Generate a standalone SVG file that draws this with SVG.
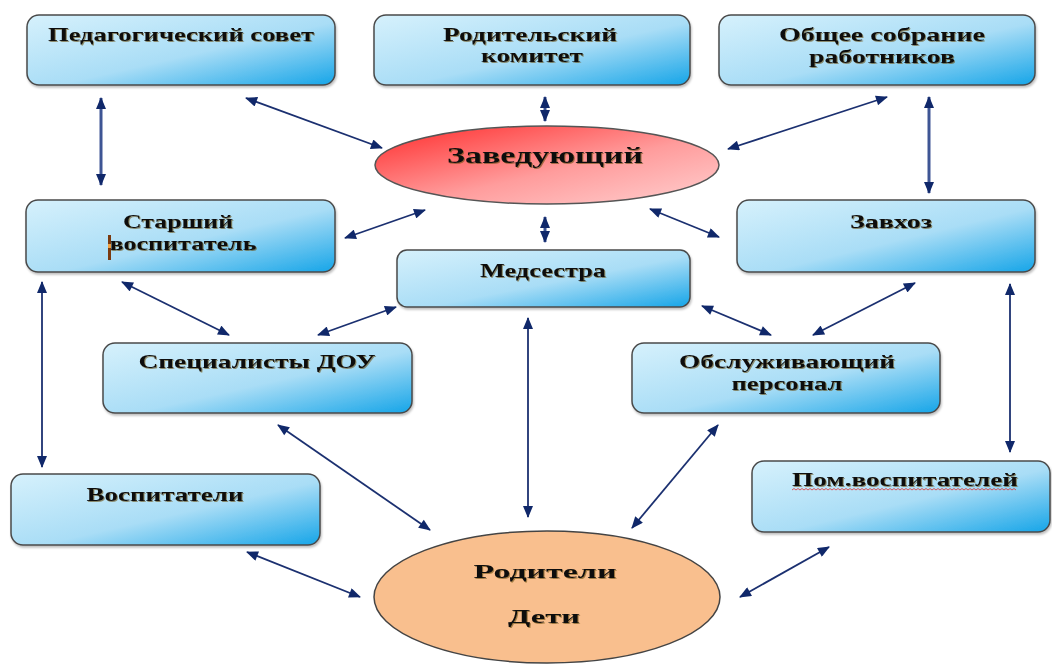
<svg xmlns="http://www.w3.org/2000/svg" width="1052" height="664" viewBox="0 0 1052 664">
<defs>
<linearGradient id="gBox" x1="0" y1="0" x2="1" y2="1">
<stop offset="0" stop-color="#d6f1fc"/>
<stop offset="0.55" stop-color="#a9ddf6"/>
<stop offset="1" stop-color="#16a5e8"/>
</linearGradient>
<linearGradient id="gRed" x1="0" y1="0" x2="1" y2="1">
<stop offset="0" stop-color="#ff2a2a"/>
<stop offset="0.55" stop-color="#ff9c9c"/>
<stop offset="1" stop-color="#ffd0d0"/>
</linearGradient>
<filter id="ts" x="-5%" y="-20%" width="110%" height="150%">
<feDropShadow dx="1" dy="1" stdDeviation="0.4" flood-color="#6b5010" flood-opacity="0.6"/>
</filter>
<filter id="bs" x="-5%" y="-10%" width="110%" height="125%">
<feDropShadow dx="1" dy="2" stdDeviation="1.2" flood-color="#000" flood-opacity="0.25"/>
</filter>
<marker id="ah" viewBox="0 0 12 10" refX="11" refY="5" markerWidth="13" markerHeight="10" markerUnits="userSpaceOnUse" orient="auto-start-reverse">
<path d="M0,0 L12,5 L0,10 z" fill="#10286a"/>
</marker>
</defs>
<style>
.box{fill:url(#gBox);stroke:#4a4a4a;stroke-width:1.5;filter:url(#bs)}
.t{font-family:"Liberation Serif","Times New Roman",serif;font-weight:bold;font-size:19px;fill:#111;text-anchor:middle;filter:url(#ts)}
.big{font-size:24px}
.c{stroke:#1b3070;stroke-width:1.8;fill:none;marker-start:url(#ah);marker-end:url(#ah)}
.v{stroke:#3e5594;stroke-width:3}
</style>
<rect width="1052" height="664" fill="#ffffff"/>

<g id="connectors">
<line class="c v" x1="101" y1="98" x2="101" y2="185"/>
<line class="c" x1="246" y1="98" x2="382" y2="148"/>
<line class="c v" x1="545" y1="97" x2="545" y2="121"/>
<line class="c" x1="887" y1="97" x2="728" y2="149"/>
<line class="c v" x1="929" y1="97" x2="929" y2="193"/>
<line class="c" x1="425" y1="210" x2="345" y2="238"/>
<line class="c v" x1="545" y1="217" x2="545" y2="242"/>
<line class="c" x1="650" y1="209" x2="719" y2="237"/>
<line class="c" x1="122" y1="282" x2="229" y2="335"/>
<line class="c" x1="318" y1="335" x2="396" y2="307"/>
<line class="c" x1="702" y1="306" x2="771" y2="335"/>
<line class="c" x1="915" y1="283" x2="813" y2="335"/>
<line class="c" x1="42" y1="282" x2="42" y2="467"/>
<line class="c" x1="1010" y1="284" x2="1010" y2="452"/>
<line class="c" x1="528" y1="318" x2="528" y2="517"/>
<line class="c" x1="278" y1="425" x2="430" y2="530"/>
<line class="c" x1="718" y1="425" x2="632" y2="528"/>
<line class="c" x1="247" y1="552" x2="360" y2="597"/>
<line class="c" x1="829" y1="547" x2="740" y2="597"/>
</g>

<g id="ped-sovet">
<rect class="box" x="27" y="15" width="308" height="70" rx="12"/>
<text class="t" x="181" y="41" textLength="266" lengthAdjust="spacingAndGlyphs">Педагогический совет</text>
</g>
<g id="rod-komitet">
<rect class="box" x="374" y="15" width="316" height="70" rx="12"/>
<text class="t" x="530" y="41" textLength="174" lengthAdjust="spacingAndGlyphs">Родительский</text>
<text class="t" x="532" y="62" textLength="102" lengthAdjust="spacingAndGlyphs">комитет</text>
</g>
<g id="obshchee">
<rect class="box" x="719" y="15" width="316" height="70" rx="12"/>
<text class="t" x="882" y="41" textLength="206" lengthAdjust="spacingAndGlyphs">Общее собрание</text>
<text class="t" x="882" y="63" textLength="146" lengthAdjust="spacingAndGlyphs">работников</text>
</g>
<g id="zaveduyushchiy">
<ellipse cx="547" cy="165" rx="172" ry="39" fill="url(#gRed)" stroke="#555" stroke-width="1.5"/>
<text class="t big" x="545" y="163" textLength="196" lengthAdjust="spacingAndGlyphs">Заведующий</text>
</g>
<g id="starshiy">
<rect class="box" x="26" y="200" width="309" height="72" rx="12"/>
<text class="t" x="178" y="228" textLength="110" lengthAdjust="spacingAndGlyphs">Старший</text>
<text class="t" x="183" y="250" textLength="147" lengthAdjust="spacingAndGlyphs">воспитатель</text>
<rect x="108" y="235" width="3" height="25" fill="#7a3a10"/>
<rect x="108" y="244" width="3" height="4" fill="#f0a040"/>
</g>
<g id="medsestra">
<rect class="box" x="397" y="250" width="293" height="57" rx="10"/>
<text class="t" x="543" y="277" textLength="126" lengthAdjust="spacingAndGlyphs">Медсестра</text>
</g>
<g id="zavkhoz">
<rect class="box" x="737" y="200" width="298" height="72" rx="12"/>
<text class="t" x="891" y="228" textLength="82" lengthAdjust="spacingAndGlyphs">Завхоз</text>
</g>
<g id="specialisty">
<rect class="box" x="103" y="343" width="309" height="70" rx="12"/>
<text class="t" x="257" y="368" textLength="237" lengthAdjust="spacingAndGlyphs">Специалисты ДОУ</text>
</g>
<g id="obsluzh">
<rect class="box" x="632" y="343" width="308" height="70" rx="12"/>
<text class="t" x="787" y="368" textLength="216" lengthAdjust="spacingAndGlyphs">Обслуживающий</text>
<text class="t" x="787" y="390" textLength="111" lengthAdjust="spacingAndGlyphs">персонал</text>
</g>
<g id="vospitateli">
<rect class="box" x="11" y="474" width="309" height="71" rx="12"/>
<text class="t" x="165" y="501" textLength="157" lengthAdjust="spacingAndGlyphs">Воспитатели</text>
</g>
<g id="pom-vosp">
<rect class="box" x="752" y="461" width="298" height="71" rx="12"/>
<text class="t" x="905" y="486" textLength="226" lengthAdjust="spacingAndGlyphs">Пом.воспитателей</text>
<path d="M792,490 l2,-1.5 l2,1.5 l2,-1.5 l2,1.5 l2,-1.5 l2,1.5 l2,-1.5 l2,1.5 l2,-1.5 l2,1.5 l2,-1.5 l2,1.5 l2,-1.5 l2,1.5 l2,-1.5 l2,1.5
 l2,-1.5 l2,1.5 l2,-1.5 l2,1.5 l2,-1.5 l2,1.5 l2,-1.5 l2,1.5 l2,-1.5 l2,1.5 l2,-1.5 l2,1.5 l2,-1.5 l2,1.5 l2,-1.5 l2,1.5
 l2,-1.5 l2,1.5 l2,-1.5 l2,1.5 l2,-1.5 l2,1.5 l2,-1.5 l2,1.5 l2,-1.5 l2,1.5 l2,-1.5 l2,1.5 l2,-1.5 l2,1.5 l2,-1.5 l2,1.5
 l2,-1.5 l2,1.5 l2,-1.5 l2,1.5 l2,-1.5 l2,1.5 l2,-1.5 l2,1.5 l2,-1.5 l2,1.5 l2,-1.5 l2,1.5 l2,-1.5 l2,1.5 l2,-1.5 l2,1.5
 l2,-1.5 l2,1.5 l2,-1.5 l2,1.5 l2,-1.5 l2,1.5 l2,-1.5 l2,1.5 l2,-1.5 l2,1.5 l2,-1.5 l2,1.5 l2,-1.5 l2,1.5 l2,-1.5 l2,1.5
 l2,-1.5 l2,1.5 l2,-1.5 l2,1.5 l2,-1.5 l2,1.5 l2,-1.5 l2,1.5 l2,-1.5 l2,1.5 l2,-1.5 l2,1.5 l2,-1.5 l2,1.5 l2,-1.5 l2,1.5
 l2,-1.5 l2,1.5 l2,-1.5 l2,1.5 l2,-1.5 l2,1.5 l2,-1.5 l2,1.5 l2,-1.5 l2,1.5 l2,-1.5 l2,1.5 l2,-1.5 l2,1.5 l2,-1.5 l2,1.5" fill="none" stroke="#e03030" stroke-width="0.8"/>
</g>
<g id="roditeli-deti">
<ellipse cx="547" cy="597" rx="173" ry="66" fill="#f9bf8e" stroke="#444" stroke-width="1.5"/>
<text class="t" x="545" y="578" textLength="143" lengthAdjust="spacingAndGlyphs">Родители</text>
<text class="t" x="544" y="623" textLength="72" lengthAdjust="spacingAndGlyphs">Дети</text>
</g>
</svg>
